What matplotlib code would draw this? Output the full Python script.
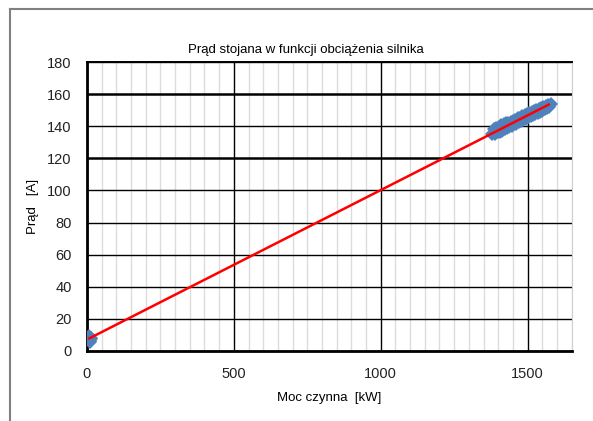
import numpy as np
import matplotlib
matplotlib.use('Agg')
import matplotlib.pyplot as plt
from matplotlib.lines import Line2D

plt.rcParams['font.family'] = ['Liberation Sans', 'DejaVu Sans']

# Pomiary: moc czynna [kW] i prąd stojana [A]
moc = [8, 10, 12, 14, 9,
       1380, 1385, 1390, 1394, 1398, 1402, 1406, 1410, 1414, 1418,
       1422, 1426, 1430, 1434, 1438, 1442, 1446, 1450, 1454, 1458,
       1462, 1466, 1470, 1474, 1478, 1482, 1486, 1490, 1494, 1498,
       1502, 1506, 1510, 1514, 1518, 1522, 1526, 1530, 1534, 1538,
       1542, 1546, 1550, 1554, 1558, 1562, 1566, 1570, 1574, 1578]
prad = [9.0, 6.0, 8.0, 7.0, 5.5,
        135.0, 138.2, 135.0, 139.3, 136.2, 139.8, 136.8, 140.6, 137.4, 141.2,
        138.2, 141.9, 138.8, 142.4, 139.6, 143.0, 140.3, 143.5, 141.2, 144.3,
        141.8, 145.0, 142.6, 145.4, 143.4, 146.3, 144.1, 146.8, 144.8, 147.5,
        145.6, 148.2, 146.3, 148.7, 147.0, 149.4, 147.7, 150.1, 148.5, 150.7,
        149.2, 151.4, 149.9, 152.2, 150.6, 152.8, 151.4, 153.6, 152.4, 154.2]

# Linia trendu (odczytane końce)
trend_x = [8, 1572]
trend_y = [7.7, 153.6]

fig = plt.figure(figsize=(5.93, 4.21), dpi=100)
ax = fig.add_axes([0.1467, 0.167, 0.8173, 0.685])

ax.plot(moc, prad, 'D', color='#4f81bd', markersize=7, markeredgewidth=0, zorder=3)
ax.plot(trend_x, trend_y, '-', color='red', linewidth=1.8, zorder=4)

ax.set_xlim(0, 1650)
ax.set_ylim(0, 180)
ax.set_xticks([0, 500, 1000, 1500])
ax.set_xticks(np.arange(0, 1651, 50), minor=True)
ax.set_yticks(np.arange(0, 181, 20))

ax.grid(which='minor', axis='x', color='#dcdcdc', linewidth=1)
ax.grid(which='major', axis='x', color='black', linewidth=1)
ax.grid(which='major', axis='y', color='black', linewidth=1)
for val, gl in zip(ax.get_yticks(), ax.yaxis.get_gridlines()):
    if val in (120, 160):
        gl.set_linewidth(1.8)
ax.set_axisbelow(True)

ax.tick_params(which='both', length=0, labelsize=10.5, colors='#222222')
ax.tick_params(axis='y', pad=11)
ax.tick_params(axis='x', pad=12)

for s in ['left', 'bottom']:
    ax.spines[s].set_linewidth(2)
    ax.spines[s].set_color('black')
ax.spines['top'].set_linewidth(1.4)
ax.spines['right'].set_color('#d0d0d0')

ax.set_title('Prąd stojana w funkcji obciążenia silnika', fontsize=9.5, pad=7, x=0.452)
ax.set_xlabel('Moc czynna  [kW]', fontsize=9.5, labelpad=8)
ax.set_ylabel('Prąd   [A]', fontsize=9.5, labelpad=6)

# ramka wykresu
fig.add_artist(Line2D([0.017, 1.0], [0.9786, 0.9786], color='#808080', linewidth=1.5))
fig.add_artist(Line2D([0.017, 0.017], [0.0, 0.9786], color='#808080', linewidth=1.5))

fig.savefig('out.png', dpi=100)
